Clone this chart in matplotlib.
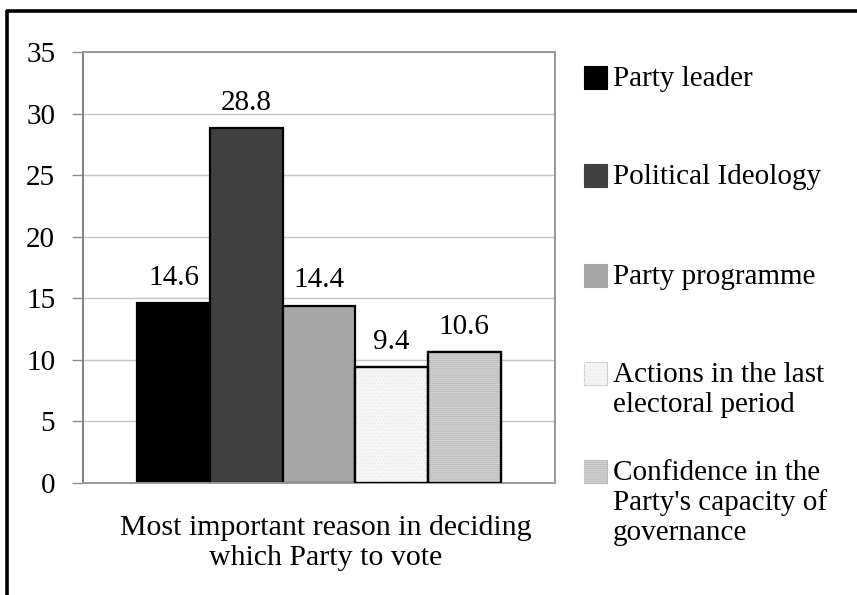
import numpy as np
import matplotlib.pyplot as plt
from matplotlib.patches import Rectangle
from matplotlib.lines import Line2D

plt.rcParams.update({
    'font.family': ['Liberation Serif', 'DejaVu Serif'],
    'font.size': 21,
    'hatch.linewidth': 0.9,
})

# Data
reasons = ['Party leader', 'Political Ideology', 'Party programme',
           'Actions in the last\nelectoral period',
           "Confidence in the\nParty's capacity of\ngovernance"]
shares = [14.6, 28.8, 14.4, 9.4, 10.6]
fills = ['#000000', '#404040', '#a6a6a6', '#f6f6f6', '#b9b9b9']
hatches = [None, None, None, '.....', '--------']
hatch_colors = [None, None, None, '#ebebeb', '#d2d2d2']
category = 'Most important reason in deciding\nwhich Party to vote'

W, H = 857, 595
fig = plt.figure(figsize=(W / 100, H / 100), dpi=100)

def px(x, y):
    # pixel position (from top-left) -> figure fraction
    return x / W, 1 - y / H

ax = fig.add_axes([83 / W, 1 - 483 / H, (555 - 83) / W, (483 - 52) / H])

x = np.arange(len(shares))
bars = ax.bar(x, shares, width=1.0, color=fills, edgecolor='black', linewidth=1.6, zorder=2)
for xi, v, h, hc in zip(x, shares, hatches, hatch_colors):
    if h:
        ax.bar(xi, v, width=1.0, fill=False, hatch=h, edgecolor=hc, linewidth=0, zorder=2.5)
        ax.bar(xi, v, width=1.0, fill=False, edgecolor='black', linewidth=1.6, zorder=3)
ax.bar_label(bars, labels=[f'{v:.1f}' for v in shares], padding=9, fontsize=21)

ax.set_xlim(-1.25, 5.25)
ax.set_ylim(0, 35)
ax.set_yticks(np.arange(0, 36, 5))
ax.set_xticks([])
ax.grid(axis='y', color='#c4c4c4', linewidth=1.0, zorder=0)
ax.set_axisbelow(True)
ax.tick_params(axis='y', length=8, width=1.0, color='#8c8c8c', pad=12, labelsize=21)
for side in ['top', 'right', 'left', 'bottom']:
    ax.spines[side].set_color('#999999')
    ax.spines[side].set_linewidth(1.4)
ax.spines['left'].set_color('#808080')

ax.set_xlabel(category, linespacing=1.2, labelpad=22, fontsize=21.5)
ax.xaxis.set_label_coords(0.515, -0.075)
ax.xaxis.label.set_va('top')

# legend drawn beside the plot
rows = [78, 176, 276, 374, 472]
for lab, y0, fc, h, hc in zip(reasons, rows, fills, hatches, hatch_colors):
    sx, sy = px(584, y0 + 11)
    fig.patches.append(Rectangle((sx, sy), 23 / W, 23 / H, transform=fig.transFigure,
                                 facecolor=fc, edgecolor='#d0d0d0' if fc == '#f6f6f6' else fc,
                                 linewidth=0.8))
    if h:
        fig.patches.append(Rectangle((sx, sy), 23 / W, 23 / H, transform=fig.transFigure,
                                     fill=False, hatch=h, edgecolor=hc, linewidth=0))
    for i, line in enumerate(lab.split('\n')):
        tx, ty = px(613, y0 + 1 + 30 * i)
        fig.text(tx, ty, line, ha='left', va='center', fontsize=21)

# outer frame
fx, fy = px(7, 11)
fig.add_artist(Line2D([fx, fx, 1.0], [0.0, fy, fy], transform=fig.transFigure,
                      color='black', linewidth=2.6))

fig.savefig('out.png', dpi=100)
